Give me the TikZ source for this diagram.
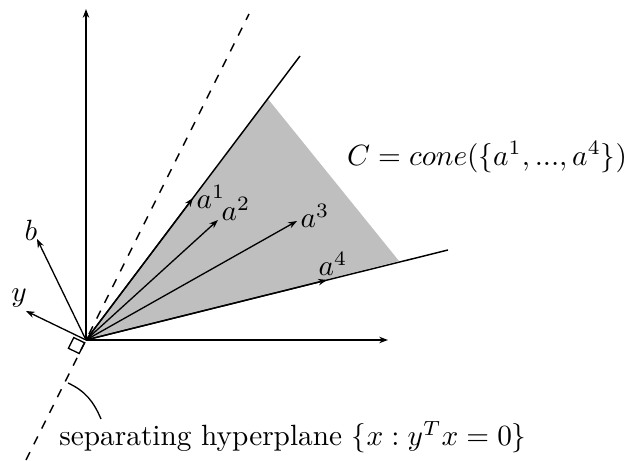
\documentclass[tikz,border=0pt]{standalone}
\usepackage{amsmath}
\usepackage{tikz}
\usetikzlibrary{arrows.meta, calc}
\tikzset{
  axisarr/.style={
    -{Stealth[length=3pt,width=2.2pt]},
    line width=0.45pt
  },
  vecarr/.style={
    -{Stealth[length=3pt,width=2.2pt]},
    line width=0.45pt
  },
  conefill/.style={fill=gray!50, draw=none},
  coneedge/.style={line width=0.5pt},
  hyperplane/.style={dashed, line width=0.5pt},
  mathlbl/.style={inner sep=1pt}
}

\begin{document}
\begin{tikzpicture}[x=0.12mm, y=-0.12mm]
  \useasboundingbox (0,0) rectangle (638,461);

  %% ── Points ──────────────────────────────────────────────
  \coordinate (O)       at (86,340);
  \coordinate (yTop)    at (86,9);
  \coordinate (xEnd)    at (388,340);
  \coordinate (hypTop)  at (249,14);
  \coordinate (hypBot)  at (26,460);
  \coordinate (edgeUp)  at (300,56);
  \coordinate (edgeLo)  at (448,250);
  \coordinate (fillUp)  at (268,99);
  \coordinate (fillLo)  at (399,261);
  \coordinate (tipA1)   at (193,198);
  \coordinate (tipA2)   at (218,220);
  \coordinate (tipA3)   at (297,221);
  \coordinate (tipA4)   at (327,280);
  \coordinate (tipB)    at (37,239);
  \coordinate (tipY)    at (26,311);

  %% ── Cone ────────────────────────────────────────────────
  \fill[conefill] (O) -- (fillUp) -- (fillLo) -- cycle;
  \draw[coneedge] (O) -- (edgeUp);
  \draw[coneedge] (O) -- (edgeLo);

  %% ── Axes and hyperplane ─────────────────────────────────
  \draw[axisarr] (O) -- (yTop);
  \draw[axisarr] (O) -- (xEnd);
  \draw[hyperplane] (hypBot) -- (hypTop);

  % right-angle mark between y and the hyperplane
  \draw[line width=0.45pt] (84.6,342.8) -- (73.8,337.6) -- (68.4,348.3) -- (79.2,353.5) -- cycle;

  %% ── Vectors ─────────────────────────────────────────────
  \foreach \t in {tipA1, tipA2, tipA3, tipA4, tipB, tipY}
    \draw[vecarr] (O) -- (\t);

  %% ── Labels ──────────────────────────────────────────────
  \node[mathlbl] (labA1) at (211,197) {$a^1$};
  \node[mathlbl] (labA2) at (236,209) {$a^2$};
  \node[mathlbl] (labA3) at (315,216) {$a^3$};
  \node[mathlbl] (labA4) at (333,264) {$a^4$};
  \node[mathlbl] (labB)  at (31,230)  {$b$};
  \node[mathlbl] (labY)  at (19,298)  {$y$};
  \node[mathlbl] (labC)  at (487,157) {$C = cone(\{a^1,...,a^4\})$};
  \node[mathlbl] (labHyp) at (293,437) {separating hyperplane $\{x : y^Tx = 0\}$};

  % pointer from the label to the hyperplane
  \coordinate (hypFoot) at (68,383);
  \coordinate (hypTail) at (101,419);
  \draw[line width=0.45pt] (hypFoot) to[out=-25, in=113] (hypTail);
\end{tikzpicture}
\end{document}
